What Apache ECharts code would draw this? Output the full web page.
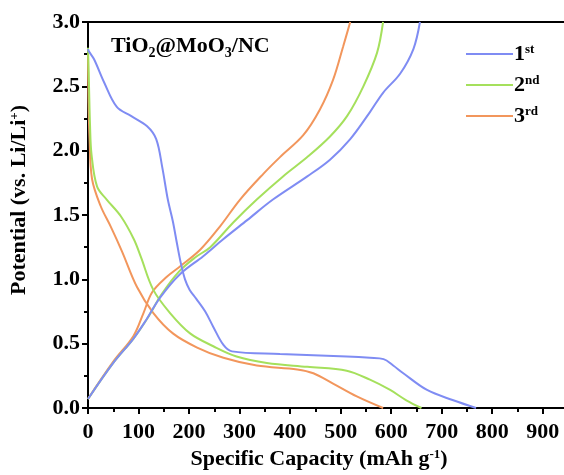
<!DOCTYPE html>
<html>
<head>
<meta charset="utf-8">
<script src="https://cdn.jsdelivr.net/npm/echarts@6/dist/echarts.min.js"></script>
<style>html,body{margin:0;padding:0;background:#fff;}#c{width:564px;height:475px;}</style>
</head>
<body>
<div id="c"></div>
<script>
// Cycle names and colours
const cycleNames = ['1st', '2nd', '3rd'];
const cycleColors = ['#7f8cf3', '#a5e05c', '#f2965c'];

// Cycle 1 discharge
const c1DisCap = [0, 2, 12, 32, 57, 85, 117, 135, 147, 158, 168, 176, 184, 192, 201, 214, 232, 248, 268, 285, 380, 512, 558, 585, 604, 624, 671, 723, 768];
const c1DisPot = [2.79, 2.77, 2.71, 2.53, 2.34, 2.27, 2.19, 2.09, 1.87, 1.62, 1.45, 1.28, 1.12, 1.00, 0.92, 0.85, 0.75, 0.63, 0.49, 0.44, 0.42, 0.40, 0.39, 0.38, 0.33, 0.27, 0.14, 0.06, 0.0];
// Cycle 1 charge
const c1ChaCap = [0, 50, 90, 116, 143, 182, 228, 267, 315, 366, 434, 479, 519, 558, 584, 618, 644, 657];
const c1ChaPot = [0.07, 0.35, 0.54, 0.69, 0.86, 1.04, 1.18, 1.31, 1.46, 1.62, 1.80, 1.93, 2.09, 2.30, 2.45, 2.60, 2.79, 3.0];

// Cycle 2 discharge
const c2DisCap = [0, 2, 4, 7, 18, 37, 65, 91, 105, 129, 162, 202, 248, 294, 354, 434, 512, 558, 598, 630, 660];
const c2DisPot = [2.80, 2.5, 2.2, 1.97, 1.72, 1.62, 1.49, 1.31, 1.17, 0.92, 0.74, 0.58, 0.48, 0.40, 0.35, 0.32, 0.29, 0.22, 0.14, 0.06, 0.0];
// Cycle 2 charge
const c2ChaCap = [0, 50, 90, 118, 145, 180, 212, 242, 287, 334, 386, 434, 479, 513, 545, 572, 584];
const c2ChaPot = [0.07, 0.35, 0.54, 0.70, 0.88, 1.06, 1.17, 1.25, 1.44, 1.62, 1.80, 1.95, 2.11, 2.27, 2.50, 2.76, 3.0];

// Cycle 3 discharge
const c3DisCap = [0, 1, 3, 8, 25, 45, 67, 97, 129, 168, 216, 268, 334, 414, 446, 485, 532, 584];
const c3DisPot = [2.75, 2.4, 2.1, 1.78, 1.57, 1.41, 1.22, 0.94, 0.74, 0.58, 0.47, 0.39, 0.33, 0.30, 0.27, 0.19, 0.09, 0.0];
// Cycle 3 charge
const c3ChaCap = [0, 50, 90, 110, 127, 156, 182, 222, 261, 301, 347, 380, 426, 459, 485, 505, 519];
const c3ChaPot = [0.07, 0.36, 0.56, 0.74, 0.90, 1.02, 1.10, 1.23, 1.41, 1.62, 1.82, 1.95, 2.12, 2.32, 2.55, 2.81, 3.0];

const zip = (a, b) => a.map((v, i) => [v, b[i]]);
const curves = [
  [zip(c1DisCap, c1DisPot), zip(c1ChaCap, c1ChaPot)],
  [zip(c2DisCap, c2DisPot), zip(c2ChaCap, c2ChaPot)],
  [zip(c3DisCap, c3DisPot), zip(c3ChaCap, c3ChaPot)]
];

const serif = '"Liberation Serif", "DejaVu Serif", serif';
const series = [];
curves.forEach((pair, i) => {
  pair.forEach(d => {
    series.push({
      name: cycleNames[i], type: 'line', data: d, showSymbol: false, smooth: 0.35,
      lineStyle: { color: cycleColors[i], width: 2 }, itemStyle: { color: cycleColors[i] },
      z: 3 - i
    });
  });
});

const supStyle = { fontFamily: serif, fontWeight: 'bold', fontSize: 13, color: '#000', verticalAlign: 'top', padding: [0, 0, 9, 0] };

const chart = echarts.init(document.getElementById('c'), null, { renderer: 'canvas' });
chart.setOption({
  animation: false,
  backgroundColor: '#fff',
  title: {
    text: 'TiO{sub|2}@MoO{sub|3}/NC', left: 106, top: 27,
    textStyle: {
      fontFamily: serif, fontWeight: 'bold', fontSize: 22, color: '#000',
      rich: { sub: { fontFamily: serif, fontWeight: 'bold', fontSize: 14, color: '#000', verticalAlign: 'bottom', padding: [14, 0, 0, 0] } }
    }
  },
  legend: {
    orient: 'vertical', left: 461, top: 38, itemWidth: 47, itemHeight: 2, itemGap: 9,
    icon: 'rect',
    data: cycleNames,
    formatter: n => '{n|' + n.charAt(0) + '}{s|' + n.slice(1) + '}',
    textStyle: {
      padding: [0, 0, 0, -4],
      rich: {
        n: { fontFamily: serif, fontWeight: 'bold', fontSize: 22, color: '#000' },
        s: supStyle
      }
    }
  },
  grid: { left: 88, top: 22, right: -4, bottom: 67, show: true, borderColor: '#000', borderWidth: 2, containLabel: false, outerBoundsMode: 'none' },
  xAxis: {
    type: 'value', min: 0, max: 950, interval: 100,
    name: 'Specific Capacity (mAh g{s|-1})', nameLocation: 'middle', nameGap: 40,
    nameTextStyle: {
      fontFamily: serif, fontWeight: 'bold', fontSize: 22, color: '#000', padding: [0, 18, 0, 0],
      rich: { s: supStyle }
    },
    axisLine: { show: true, lineStyle: { color: '#000', width: 2 } },
    axisTick: { show: true, length: 6, lineStyle: { color: '#000', width: 2 } },
    minorTick: { show: true, splitNumber: 2, length: 4, lineStyle: { color: '#000', width: 2 } },
    splitLine: { show: false },
    axisLabel: {
      margin: 13, fontFamily: serif, fontWeight: 'bold', fontSize: 22, color: '#000',
      formatter: v => (v % 100 === 0 ? String(v) : '')
    }
  },
  yAxis: {
    type: 'value', min: 0, max: 3, interval: 0.5,
    name: 'Potential (vs. Li/Li{s|+})', nameLocation: 'middle', nameGap: 58, nameRotate: 90,
    nameTextStyle: {
      fontFamily: serif, fontWeight: 'bold', fontSize: 22, color: '#000', padding: [0, 0, 0, 30],
      rich: { s: supStyle }
    },
    axisLine: { show: true, lineStyle: { color: '#000', width: 2 } },
    axisTick: { show: true, length: 6, lineStyle: { color: '#000', width: 2 } },
    minorTick: { show: true, splitNumber: 2, length: 4, lineStyle: { color: '#000', width: 2 } },
    splitLine: { show: false },
    axisLabel: {
      margin: 8, fontFamily: serif, fontWeight: 'bold', fontSize: 22, color: '#000',
      formatter: v => v.toFixed(1)
    }
  },
  series: series
});
</script>
</body>
</html>
